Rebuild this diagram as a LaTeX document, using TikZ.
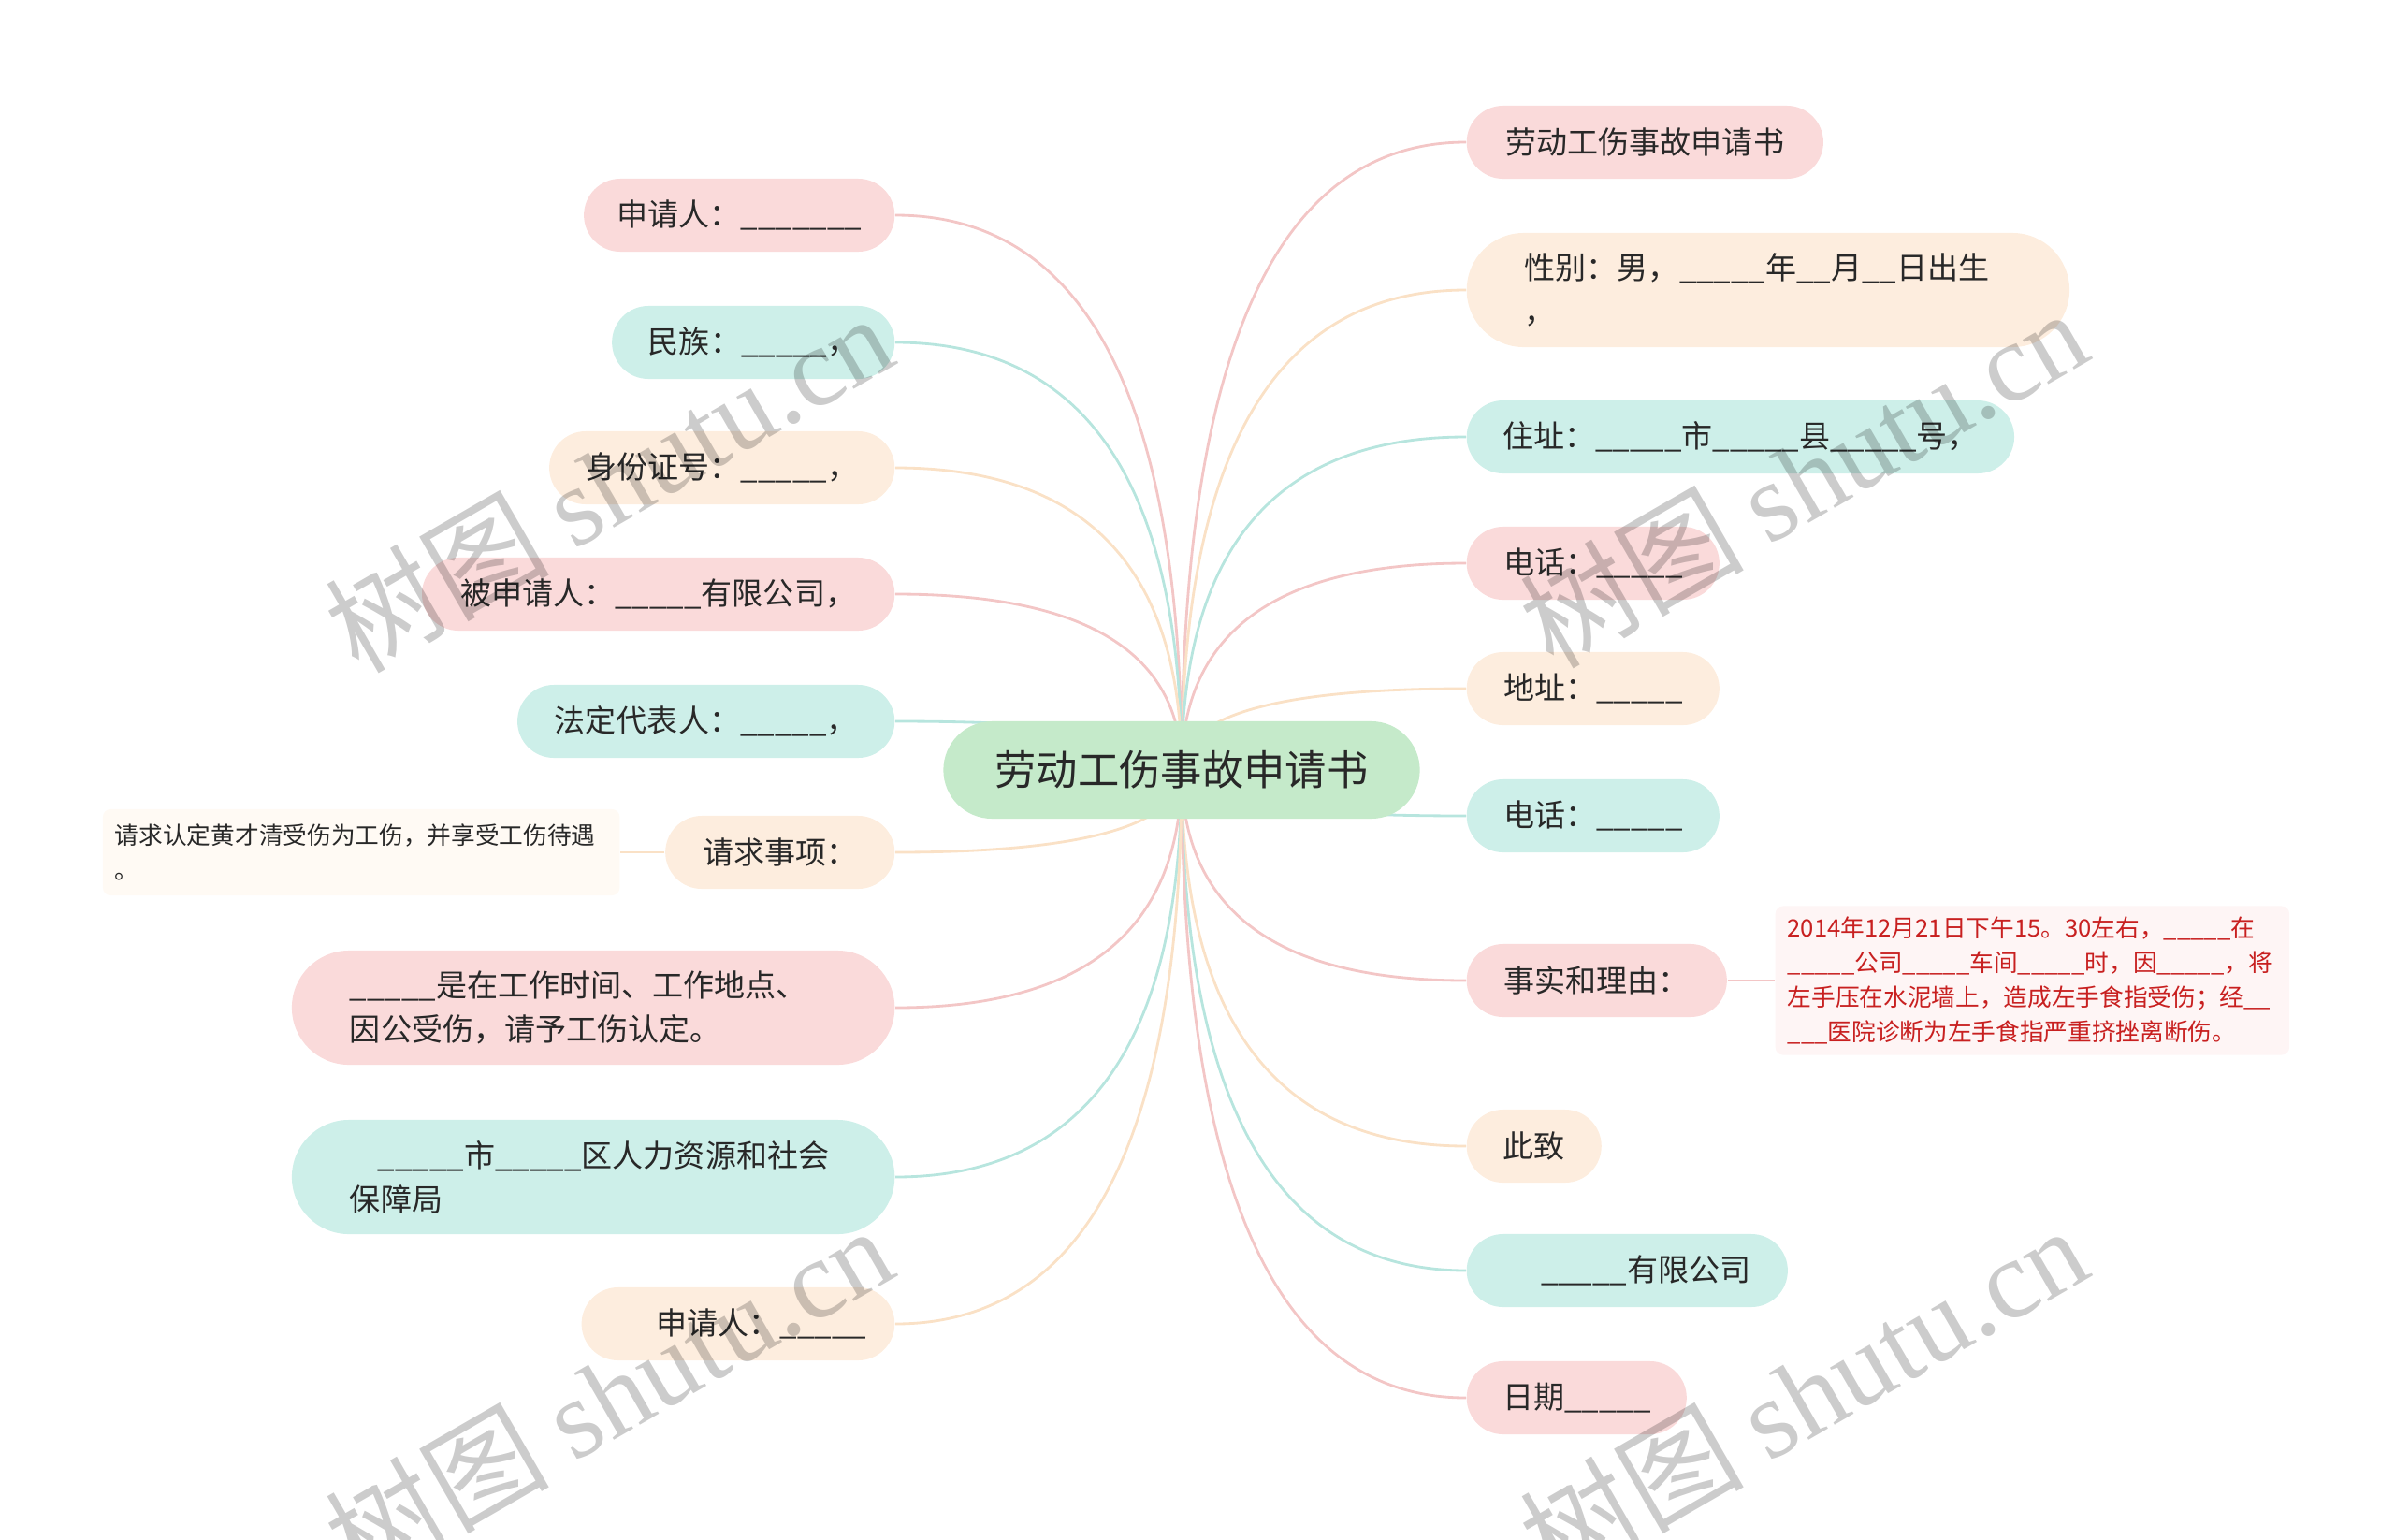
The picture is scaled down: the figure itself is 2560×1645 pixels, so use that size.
\documentclass[tikz,border=0pt]{standalone}
\usepackage{fontspec}
\setmainfont{Noto Sans CJK SC}
\newfontfamily\wmfont{Liberation Serif}
\usetikzlibrary{positioning,calc,backgrounds}
\definecolor{myPink}{RGB}{250,218,218}
\definecolor{myTeal}{RGB}{205,239,233}
\definecolor{myPeach}{RGB}{253,237,222}
\definecolor{myGreen}{RGB}{197,234,202}
\definecolor{myPinkLine}{RGB}{243,198,198}
\definecolor{myTealLine}{RGB}{183,229,222}
\definecolor{myPeachLine}{RGB}{250,225,198}
\definecolor{myCream}{RGB}{255,250,244}
\definecolor{myRose}{RGB}{254,245,245}
\definecolor{myRed}{RGB}{200,32,32}
\definecolor{myText}{RGB}{40,40,40}
\newcommand\blank{\_\_\_\_\_}

\begin{document}
\begin{tikzpicture}[x=0.01cm,y=-0.01cm,
  root node/.style={rectangle,rounded corners=0.52cm,fill=myGreen,text=myText,
  font=\fontsize{12.6}{15}\selectfont,minimum width=5.09cm,minimum height=1.04cm,inner xsep=0.3cm},
  topic node/.style={rectangle,rounded corners=0.39cm,text=myText,
  font=\fontsize{9.4}{13.4}\selectfont,minimum height=0.78cm,inner xsep=0.3cm,inner ysep=0.1cm},
  wide node/.style={topic node,rounded corners=0.61cm,minimum height=1.22cm,
  text width=5.2cm,align=left,inner xsep=0.62cm},
  note box/.style={rectangle,rounded corners=0.08cm,text=myText,align=left,
  font=\fontsize{7.3}{10.5}\selectfont,inner xsep=0.13cm,inner ysep=0.1cm},
  branch/.style={line width=0.8pt,to path={.. controls ($(\tikztostart)!0.667!(\tikztostart|-\tikztotarget)$)
  and ($(\tikztotarget)!0.667!(\tikztostart|-\tikztotarget)$) .. (\tikztotarget)}},
  watermark/.style={rotate=30,text=black,text opacity=0.2,font=\fontsize{34}{34}\selectfont,inner sep=0pt}]

\useasboundingbox (0,0) rectangle (2560,1645);

% The central topic
\node[root node] (root) at (1263,823) {劳动工伤事故申请书};

% Right hand branches
\node[topic node,fill=myPink,anchor=west,minimum width=3.81cm] (r1) at (1567,152) {劳动工伤事故申请书};
\node[wide node,fill=myPeach,anchor=west] (r2) at (1567,310) {性别：男，\blank 年\_\_月\_\_日出生\\，};
\node[topic node,fill=myTeal,anchor=west,minimum width=5.85cm] (r3) at (1567,467) {住址：\blank 市\blank 县\blank 号，};
\node[topic node,fill=myPink,anchor=west,minimum width=2.70cm] (r4) at (1567,602) {电话：\blank};
\node[topic node,fill=myPeach,anchor=west,minimum width=2.70cm] (r5) at (1567,736) {地址：\blank};
\node[topic node,fill=myTeal,anchor=west,minimum width=2.70cm] (r6) at (1567,872) {电话：\blank};
\node[topic node,fill=myPink,anchor=west,minimum width=2.78cm] (r7) at (1567,1048) {事实和理由：};
\node[note box,fill=myRose,text=myRed,anchor=west,text width=5.23cm,minimum height=1.59cm] (facts) at (1897,1048)
  {2014年12月21日下午15。30左右，\blank 在\\\blank 公司\blank 车间\blank 时，因\blank ，将\\左手压在水泥墙上，造成左手食指受伤；经\_\_\\\_\_\_医院诊断为左手食指严重挤挫离断伤。};
\node[topic node,fill=myPeach,anchor=west,minimum width=1.44cm] (r8) at (1567,1225) {此致};
\node[topic node,fill=myTeal,anchor=west,minimum width=3.43cm] (r9) at (1567,1358) {\hspace*{0.4cm}\blank 有限公司};
\node[topic node,fill=myPink,anchor=west,minimum width=2.35cm] (r10) at (1567,1494) {日期\blank};

% Left hand branches
\node[topic node,fill=myPink,anchor=east,minimum width=3.32cm] (l1) at (957,230) {申请人：\_\_\_\_\_\_\_};
\node[topic node,fill=myTeal,anchor=east,minimum width=3.02cm] (l2) at (957,366) {民族：\blank ，};
\node[topic node,fill=myPeach,anchor=east,minimum width=3.69cm] (l3) at (957,500) {身份证号：\blank ，};
\node[topic node,fill=myPink,anchor=east,minimum width=5.05cm] (l4) at (957,635) {被申请人：\blank 有限公司，};
\node[topic node,fill=myTeal,anchor=east,minimum width=4.03cm] (l5) at (957,771) {法定代表人：\blank ，};
\node[topic node,fill=myPeach,anchor=east,minimum width=2.45cm] (l6) at (957,911) {请求事项：};
\node[note box,fill=myCream,anchor=east,text width=5.26cm,minimum height=0.92cm] (claim) at (663,911)
  {请求认定黄才清受伤为工伤，并享受工伤待遇\\。};
\node[wide node,fill=myPink,anchor=east] (l7) at (957,1077) {\blank 是在工作时间、工作地点、\\因公受伤，请予工伤认定。};
\node[wide node,fill=myTeal,anchor=east] (l8) at (957,1258) {\hspace*{0.3cm}\blank 市\blank 区人力资源和社会\\保障局};
\node[topic node,fill=myPeach,anchor=east,minimum width=3.32cm] (l9) at (957,1415) {\hspace*{0.5cm}申请人：\blank};

% The curves from the root to every topic
\begin{pgfonlayer}{background}
\path
 (root.center) edge[branch,draw=myPinkLine] (r1.west)
 (root.center) edge[branch,draw=myPeachLine] (r2.west)
 (root.center) edge[branch,draw=myTealLine] (r3.west)
 (root.center) edge[branch,draw=myPinkLine] (r4.west)
 (root.center) edge[branch,draw=myPeachLine] (r5.west)
 (root.center) edge[branch,draw=myTealLine] (r6.west)
 (root.center) edge[branch,draw=myPinkLine] (r7.west)
 (root.center) edge[branch,draw=myPeachLine] (r8.west)
 (root.center) edge[branch,draw=myTealLine] (r9.west)
 (root.center) edge[branch,draw=myPinkLine] (r10.west)
 (root.center) edge[branch,draw=myPinkLine] (l1.east)
 (root.center) edge[branch,draw=myTealLine] (l2.east)
 (root.center) edge[branch,draw=myPeachLine] (l3.east)
 (root.center) edge[branch,draw=myPinkLine] (l4.east)
 (root.center) edge[branch,draw=myTealLine] (l5.east)
 (root.center) edge[branch,draw=myPeachLine] (l6.east)
 (root.center) edge[branch,draw=myPinkLine] (l7.east)
 (root.center) edge[branch,draw=myTealLine] (l8.east)
 (root.center) edge[branch,draw=myPeachLine] (l9.east);
\draw[line width=0.8pt,myPinkLine] (r7.east) -- (facts.west);
\draw[line width=0.8pt,myPeachLine] (l6.west) -- (claim.east);
\end{pgfonlayer}

% Watermarks
\node[watermark] (wm1) at (650,515) {树图 {\wmfont shutu.cn}};
\node[watermark] (wm2) at (1927,510) {树图 {\wmfont shutu.cn}};
\node[watermark] (wm3) at (650,1490) {树图 {\wmfont shutu.cn}};
\node[watermark] (wm4) at (1927,1490) {树图 {\wmfont shutu.cn}};

\end{tikzpicture}
\end{document}
